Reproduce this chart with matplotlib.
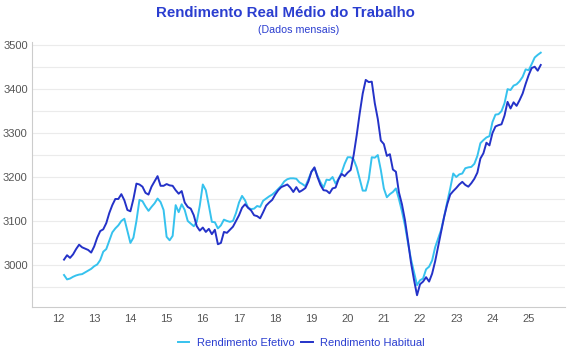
import numpy as np
import pandas as pd
import matplotlib
matplotlib.use('Agg')
import matplotlib.pyplot as plt
from matplotlib.ticker import MultipleLocator

plt.rcParams['font.family'] = ['Liberation Sans', 'DejaVu Sans']

# monthly series, Mar 2012 .. May 2025
start = '2012-03'
efetivo = [
	2977, 2967, 2969, 2973, 2976, 2978, 2979, 2983, 2987, 2991,
	2997, 3001, 3011, 3030, 3036, 3055, 3074, 3083, 3090, 3100, 3105, 3078,
	3050, 3062, 3100, 3148, 3145, 3133, 3123, 3132, 3140, 3151, 3143, 3125,
	3064, 3056, 3066, 3136, 3120, 3138, 3125, 3100, 3094, 3088, 3098, 3135,
	3183, 3170, 3135, 3098, 3097, 3083, 3090, 3103, 3100, 3098, 3100, 3118,
	3142, 3157, 3147, 3130, 3127, 3128, 3134, 3132, 3146, 3151, 3156, 3160,
	3166, 3173, 3180, 3190, 3195, 3197, 3197, 3196, 3188, 3184, 3179, 3195,
	3212, 3220, 3203, 3188, 3176, 3194, 3193, 3200, 3185, 3196, 3210, 3230,
	3245, 3245, 3240, 3222, 3195, 3169, 3169, 3195, 3245, 3244, 3250, 3216,
	3174, 3154, 3161, 3166, 3174, 3150, 3122, 3090, 3050, 3013, 2984, 2954,
	2965, 2969, 2990, 2996, 3010, 3040, 3060, 3080, 3110, 3143, 3174, 3208,
	3200, 3206, 3208, 3220, 3222, 3223, 3230, 3248, 3277, 3284, 3290, 3293,
	3325, 3342, 3343, 3350, 3368, 3400, 3398, 3408, 3411, 3418, 3428, 3445,
	3443, 3457, 3472, 3478, 3483,
]
habitual = [
	3012, 3022, 3016, 3024, 3036, 3046, 3040, 3037, 3034, 3028,
	3042, 3062, 3077, 3081, 3095, 3118, 3136, 3150, 3150, 3161, 3147, 3125,
	3122, 3150, 3185, 3183, 3178, 3164, 3160, 3178, 3190, 3202, 3180, 3180,
	3184, 3181, 3180, 3170, 3162, 3168, 3142, 3132, 3128, 3113, 3088, 3078,
	3085, 3075, 3082, 3070, 3080, 3047, 3050, 3075, 3073, 3080, 3087, 3100,
	3113, 3130, 3138, 3130, 3124, 3113, 3111, 3106, 3120, 3135, 3142, 3148,
	3160, 3170, 3177, 3180, 3183, 3176, 3166, 3177, 3166, 3170, 3175, 3190,
	3212, 3222, 3200, 3182, 3170, 3169, 3163, 3174, 3176, 3195, 3207, 3202,
	3210, 3216, 3250, 3295, 3345, 3390, 3421, 3416, 3417, 3368, 3332, 3283,
	3275, 3248, 3252, 3217, 3212, 3165, 3138, 3102, 3055, 3005, 2966, 2931,
	2956, 2962, 2972, 2962, 2980, 3008, 3042, 3075, 3110, 3138, 3160, 3168,
	3175, 3183, 3189, 3182, 3178, 3186, 3196, 3210, 3242, 3254, 3278, 3272,
	3300, 3315, 3318, 3320, 3340, 3371, 3356, 3370, 3362, 3375, 3390, 3412,
	3432, 3448, 3451, 3442, 3455,
]
year_ticks = list(range(12, 26))

dates = pd.period_range(start, periods=len(efetivo), freq='M')
x = (dates.year - 2000) + (dates.month - 1) / 12.0

c_efe = '#36c2ee'
c_hab = '#2432c8'
c_txt = '#2b3ed0'

fig = plt.figure(figsize=(5.7, 3.6), dpi=100)
ax = fig.add_axes([0.056, 0.147, 0.935, 0.736])

ax.plot(x, efetivo, color=c_efe, lw=1.4, label='Rendimento Efetivo')
ax.plot(x, habitual, color=c_hab, lw=1.4, label='Rendimento Habitual')

ax.set_xlim(11.28, 26.0)
ax.set_ylim(2904, 3507)
ax.set_xticks(year_ticks)
ax.set_xticklabels([str(t) for t in year_ticks])
ax.yaxis.set_minor_locator(MultipleLocator(50))
ax.set_yticks([3000, 3100, 3200, 3300, 3400, 3500])
ax.grid(axis='y', which='both', color='#ebebeb', lw=0.8)
ax.set_axisbelow(True)
ax.tick_params(axis='both', which='both', length=0, labelsize=8, colors='#555555', pad=5)
ax.tick_params(axis='y', pad=3)
for s in ['top', 'right']:
	ax.spines[s].set_visible(False)
for s in ['left', 'bottom']:
	ax.spines[s].set_color('#cccccc')
	ax.spines[s].set_linewidth(0.8)

fig.text(0.5, 0.965, 'Rendimento Real Médio do Trabalho', ha='center', va='center',
	fontsize=10.8, fontweight='bold', color=c_txt)
fig.text(0.524, 0.918, '(Dados mensais)', ha='center', va='center', fontsize=7.7, color=c_txt)

leg = fig.legend(loc='center', bbox_to_anchor=(0.529, 0.047), ncol=2, frameon=False,
	fontsize=8, handlelength=1.0, columnspacing=0.6, handletextpad=0.7)
for t in leg.get_texts():
	t.set_color(c_txt)

fig.savefig('out.png', dpi=100)
